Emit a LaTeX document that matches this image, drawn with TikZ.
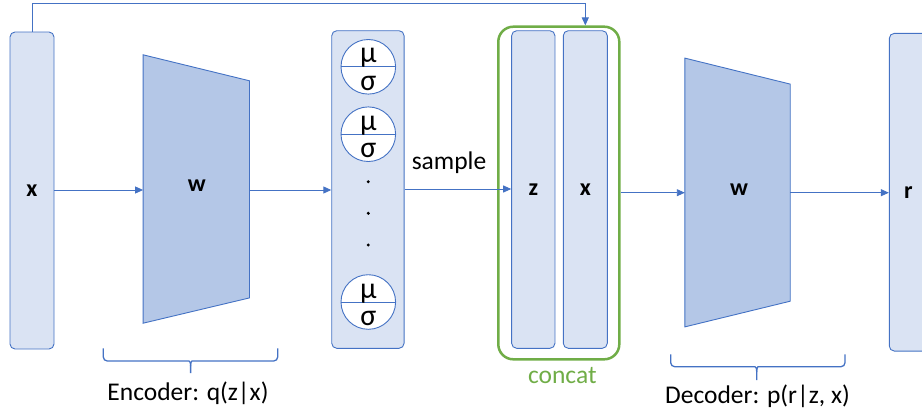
\documentclass[tikz,border=0pt]{standalone}
\usepackage{fontspec}
\setmainfont{Carlito}
\usetikzlibrary{arrows.meta,calc}
\definecolor{boxfill}{HTML}{DAE3F3}
\definecolor{trapfill}{HTML}{B4C7E7}
\definecolor{blueline}{HTML}{4472C4}
\definecolor{greenline}{HTML}{70AD47}
\begin{document}
\begin{tikzpicture}[x=1pt,y=-1pt,
  vbox/.style={draw=blueline,fill=boxfill,line width=0.9pt,rounded corners=5pt,inner sep=0pt,font=\fontsize{24}{28}\selectfont\bfseries},
  trap/.style={draw=blueline,fill=trapfill,line width=0.9pt},
  wlabel/.style={inner sep=0pt,font=\fontsize{24}{28}\selectfont\bfseries},
  arr/.style={draw=blueline,line width=0.9pt,-{Triangle[length=8pt,width=7pt]}},
  txt/.style={inner sep=0pt,font=\fontsize{25.5}{30}\selectfont},
  gk/.style={inner sep=0pt,font=\fontsize{30}{32}\selectfont},
  circ/.style={draw=blueline,fill=white,line width=0.9pt,circle,minimum size=54.6pt,inner sep=0pt},
  bracestyle/.style={draw=blueline,line width=1.3pt},
  dotstyle/.style={fill=black,circle,inner sep=0pt,minimum size=3.3pt}
]
\useasboundingbox (0,0) rectangle (922,410);

% input x
\node[vbox,minimum width=44pt,minimum height=317pt] (xin) at (32,190.5) {x};

% encoder trapezoid
\node[minimum width=106pt,minimum height=268pt,inner sep=0pt] (enc) at (196.3,189) {};
\draw[trap] (enc.north west) -- ($(enc.north east)+(0,26)$) -- ($(enc.south east)+(0,-25.3)$) -- (enc.south west) -- cycle;
\node[wlabel] (encw) at (196.7,185.7) {w};

% mu sigma box
\node[vbox,minimum width=72.3pt,minimum height=317.6pt] (mubox) at (367.9,189.5) {};
\foreach \i/\cy in {1/66.8,2/134.2,3/302}{
  \node[circ] (c\i) at (368.3,\cy) {};
  \draw[blueline,line width=0.9pt] (c\i.west) -- (c\i.east);
  \node[gk,anchor=base] (mu\i) at ($(c\i.center)+(0,-4)$) {μ};
  \node[gk,anchor=base] (sg\i) at ($(c\i.center)+(0,23.5)$) {σ};
}
\node[dotstyle] (d1) at (368.3,181.7) {};
\node[dotstyle] (d2) at (368.3,213.3) {};
\node[dotstyle] (d3) at (368.3,245) {};

% concat group
\node[draw=greenline,line width=2.5pt,rounded corners=15pt,minimum width=121pt,minimum height=332.6pt,inner sep=0pt] (concat) at (558.8,193) {};
\node[vbox,minimum width=43.3pt,minimum height=317.6pt] (zb) at (533.3,189.5) {z};
\node[vbox,minimum width=44pt,minimum height=317.6pt] (xc) at (585.3,189.5) {x};
\node[txt,text=greenline] (concatlbl) at (562.3,376) {concat};

% decoder trapezoid
\node[minimum width=105pt,minimum height=268.4pt,inner sep=0pt] (dec) at (737.5,192.5) {};
\draw[trap] (dec.north west) -- ($(dec.north east)+(0,26)$) -- ($(dec.south east)+(0,-25.7)$) -- (dec.south west) -- cycle;
\node[wlabel] (decw) at (739,190) {w};

% output r
\node[vbox,minimum width=38pt,minimum height=317.7pt] (rb) at (908.3,192.2) {r};

% connectors
\draw[arr] (xin.east |- 0,190) -- (enc.west |- 0,190);
\draw[arr] (enc.east |- 0,190) -- (mubox.west |- 0,190);
\draw[arr] (mubox.east |- 0,189) -- (zb.west |- 0,189);
\node[txt] (sample) at (449,162.3) {sample};
\draw[arr] (concat.east |- 0,192.7) -- (dec.west |- 0,192.7);
\draw[arr] (dec.east |- 0,192.7) -- (rb.west |- 0,192.7);
\draw[arr] (xin.north) -- ++(0,-27.7) -| (xc.north |- concat.north);

% braces
\draw[bracestyle] (103.3,348.3) [rounded corners=4pt] |- (185,361) [sharp corners] .. controls (189.5,361) and (190.6,362) .. (190.6,366) -- (190.6,373);
\draw[bracestyle] (277.7,348.3) [rounded corners=4pt] |- (196,361) [sharp corners] .. controls (191.7,361) and (190.6,362) .. (190.6,366);
\node[txt] (enclbl) at (188,393) {Encoder: q(z|x)};

\draw[bracestyle] (670.7,354.3) [rounded corners=4pt] |- (751,366.7) [sharp corners] .. controls (755.6,366.7) and (756.7,367.7) .. (756.7,372) -- (756.7,380);
\draw[bracestyle] (845,354.3) [rounded corners=4pt] |- (762,366.7) [sharp corners] .. controls (757.8,366.7) and (756.7,367.7) .. (756.7,372);
\node[txt] (declbl) at (757.5,396.7) {Decoder: p(r|z, x)};
\end{tikzpicture}
\end{document}
